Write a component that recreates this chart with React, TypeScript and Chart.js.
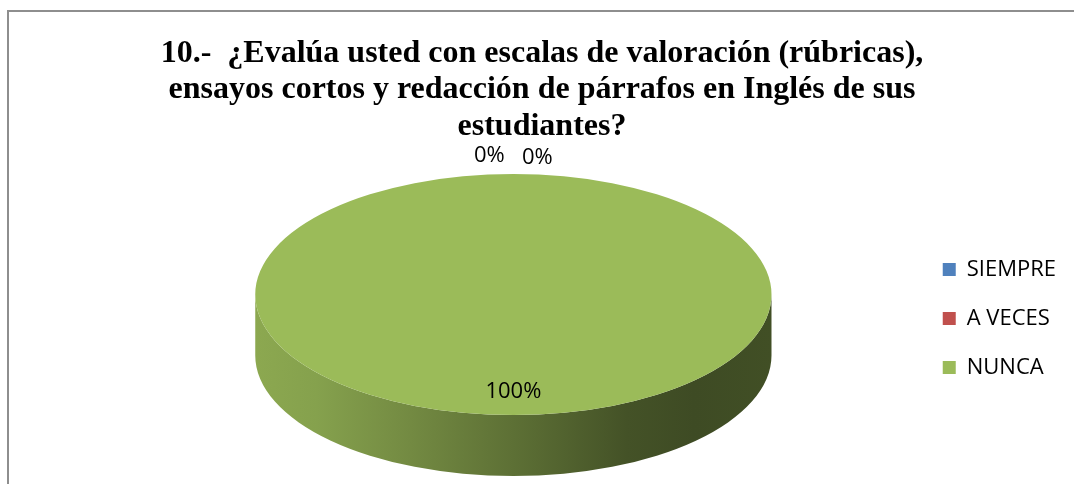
import React, { useEffect, useRef } from 'react';
import { Chart, registerables } from 'chart.js';

Chart.register(...registerables);

// ---- data ----
const TITLE_LINES = [
  '10.-  ¿Evalúa usted con escalas de valoración (rúbricas),',
  'ensayos cortos y redacción de párrafos en Inglés de sus',
  'estudiantes?',
];
const CATEGORIES = ['SIEMPRE', 'A VECES', 'NUNCA'];
const VALUES = [0, 0, 100];
const COLORS = ['#4f81bd', '#c0504d', '#9bbb59'];

// ---- 3D look (style) ----
const TILT = 0.467; // vertical / horizontal radius of the tilted pie
const DEPTH = 0.236; // side height relative to horizontal radius
const SIDE_SHADES: [number, number][] = [
  [0, 0.9],
  [0.12, 0.86],
  [0.3, 0.74],
  [0.5, 0.6],
  [0.72, 0.44],
  [0.85, 0.4],
  [1, 0.42],
];
const LABEL_FONT = '22px "Open Sans"';
const ZERO_LABEL_GAP = 48;

function hexToRgb(hex: string) {
  const h = hex.replace('#', '');
  return [
    parseInt(h.slice(0, 2), 16),
    parseInt(h.slice(2, 4), 16),
    parseInt(h.slice(4, 6), 16),
  ];
}

function projection(chart: any) {
  const meta = chart.getDatasetMeta(0);
  const arc = meta.data[0];
  const { left, right, top, bottom } = chart.chartArea;
  const W = right - left;
  const H = bottom - top;
  const rx = Math.min(W / 2, H / (2 * TILT + DEPTH));
  const ry = rx * TILT;
  const depth = rx * DEPTH;
  const cx = arc.x;
  const cy = arc.y;
  return { cx, cy, r: arc.outerRadius, rx, ry, depth, cyTop: cy - depth / 2 };
}

const pie3d = {
  id: 'pie3d',
  beforeDatasetsDraw(chart: any) {
    const p = projection(chart);
    const ctx = chart.ctx;
    const meta = chart.getDatasetMeta(0);
    meta.data.forEach((arc: any) => {
      const s = arc.startAngle;
      const e = arc.endAngle;
      if (e - s <= 0) return;
      const base = hexToRgb(arc.options.backgroundColor);
      [-1, 0, 1].forEach((k) => {
        const off = 2 * Math.PI * k;
        const a0 = Math.max(s, off);
        const a1 = Math.min(e, off + Math.PI);
        if (a1 <= a0) return;
        const g = ctx.createLinearGradient(p.cx - p.rx, 0, p.cx + p.rx, 0);
        SIDE_SHADES.forEach(([stop, f]) => {
          g.addColorStop(
            stop,
            `rgb(${Math.round(base[0] * f)},${Math.round(base[1] * f)},${Math.round(base[2] * f)})`
          );
        });
        ctx.save();
        ctx.beginPath();
        ctx.ellipse(p.cx, p.cyTop, p.rx, p.ry, 0, a0 - off, a1 - off, false);
        ctx.ellipse(p.cx, p.cyTop + p.depth, p.rx, p.ry, 0, a1 - off, a0 - off, true);
        ctx.closePath();
        ctx.fillStyle = g;
        ctx.fill();
        ctx.restore();
      });
    });
    ctx.save();
    ctx.translate(p.cx, p.cyTop);
    ctx.scale(p.rx / p.r, p.ry / p.r);
    ctx.translate(-p.cx, -p.cy);
  },
  afterDatasetsDraw(chart: any) {
    const ctx = chart.ctx;
    ctx.restore();
    const p = projection(chart);
    const meta = chart.getDatasetMeta(0);
    const values: number[] = chart.data.datasets[0].data;
    const total = values.reduce((a, b) => a + b, 0);
    const zeros = values.map((v, i) => (v === 0 ? i : -1)).filter((i) => i >= 0);
    ctx.save();
    ctx.font = LABEL_FONT;
    ctx.fillStyle = '#000';
    ctx.textAlign = 'center';
    ctx.textBaseline = 'middle';
    meta.data.forEach((arc: any, i: number) => {
      const v = values[i];
      const mid = (arc.startAngle + arc.endAngle) / 2;
      const pct = Math.round((v / total) * 100) + '%';
      let x: number;
      let y: number;
      if (v === 0) {
        const j = zeros.indexOf(i);
        x = p.cx + Math.cos(mid) * p.rx * 1.15 + (j - (zeros.length - 1) / 2) * ZERO_LABEL_GAP;
        y = p.cyTop + Math.sin(mid) * p.ry * 1.15 + j * 2;
      } else {
        x = p.cx + Math.cos(mid) * p.rx * 0.81;
        y = p.cyTop + Math.sin(mid) * p.ry * 0.81;
      }
      ctx.fillText(pct, x, y);
    });
    ctx.restore();
  },
};

export default function App() {
  const ref = useRef<HTMLCanvasElement>(null);

  useEffect(() => {
    const chart = new Chart(ref.current as HTMLCanvasElement, {
      type: 'pie',
      data: {
        labels: CATEGORIES,
        datasets: [
          {
            data: VALUES,
            backgroundColor: COLORS,
            borderWidth: 0,
            clip: false,
          } as any,
        ],
      },
      options: {
        responsive: false,
        animation: false,
        events: [],
        layout: { padding: { left: 18, right: 8, top: 0, bottom: 8 } },
        plugins: {
          tooltip: { enabled: false },
          title: {
            display: true,
            text: TITLE_LINES,
            color: '#000',
            font: { family: '"Liberation Serif"', size: 32, weight: 'bold', lineHeight: 1.1406 },
            padding: { top: 35, bottom: 29.5 },
          },
          subtitle: {
            display: true,
            position: 'left',
            fullSize: false,
            text: '',
            font: { size: 1, lineHeight: 1 },
            padding: { top: 92, bottom: 0 },
          },
          legend: {
            display: true,
            position: 'right',
            title: {
              display: true,
              text: ' ',
              font: { size: 1, lineHeight: 1 },
              padding: { top: 160, bottom: 0 },
            },
            labels: {
              boxWidth: 13,
              boxHeight: 13,
              padding: 27,
              color: '#000',
              font: { family: '"Open Sans"', size: 22 },
            },
          },
        } as any,
      },
      plugins: [pie3d],
    });
    return () => chart.destroy();
  }, []);

  return (
    <div
      style={{
        position: 'fixed',
        left: 0,
        top: 0,
        width: 1074,
        height: 484,
        overflow: 'hidden',
        background: '#fff',
      }}
    >
      <div
        style={{
          position: 'absolute',
          left: 7,
          top: 10,
          width: 1200,
          height: 600,
          borderTop: '2px solid #8e8e8e',
          borderLeft: '2px solid #8e8e8e',
        }}
      />
      <canvas
        ref={ref}
        width={1074}
        height={484}
        style={{ position: 'absolute', left: 0, top: 0, width: 1074, height: 484 }}
      />
    </div>
  );
}
